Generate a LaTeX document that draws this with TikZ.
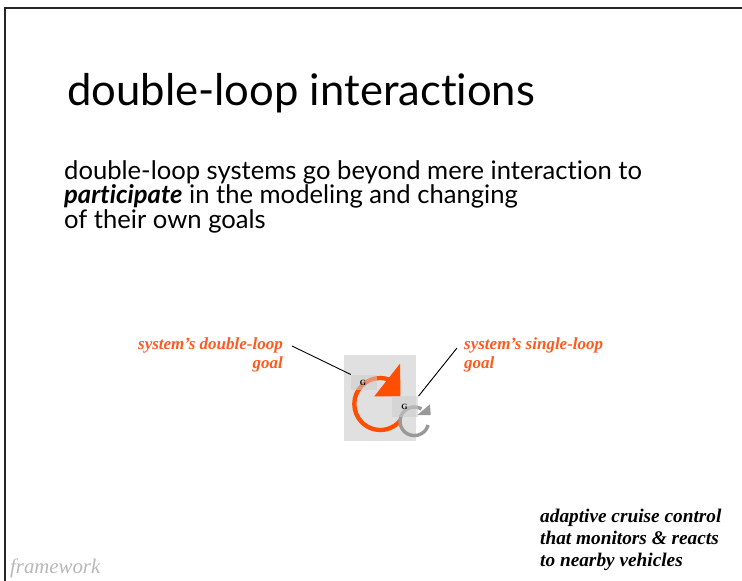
\documentclass[tikz,border=0pt]{standalone}
\usepackage{fontspec}
\usetikzlibrary{calc}
\setmainfont{Liberation Serif}
\newfontfamily\gill[Ligatures={NoCommon,NoDiscretionary}]{Lato}
\definecolor{orng}{HTML}{FF4E00}
\definecolor{lblorng}{HTML}{FF5A1E}
\definecolor{loopgray}{HTML}{999999}
\definecolor{iconbg}{HTML}{E0E0E0}
\begin{document}
\begin{tikzpicture}[x=1pt,y=-1pt,
  lbl/.style={inner sep=0pt, text=lblorng, font=\fontsize{17}{20}\selectfont\bfseries\itshape},
  bodyline/.style={inner sep=0pt, anchor=base west, font=\gill\fontsize{25.6}{30}\selectfont},
  note/.style={inner sep=0pt, anchor=base west, font=\fontsize{19.3}{22}\selectfont\bfseries\itshape},
  gbox/.style={fill=black!20, fill opacity=0.55, draw=none, inner sep=0pt},
  gtext/.style={inner sep=0pt, font=\fontsize{8}{9}\selectfont\bfseries},
  leader/.style={draw=black, line width=0.9pt}]
\useasboundingbox (0,0) rectangle (742,581);
\fill[white] (0,0) rectangle (742,581);
\draw[line width=1.3pt, black!85] (5,581) -- (5,8) -- (742,8);
% title
\node[inner sep=0pt, anchor=base west, font=\gill\fontsize{43.6}{50}\selectfont] (title) at (67,105) {double-loop interactions};
% body
\node[bodyline] (b1) at (64,179) {double-loop systems go beyond mere interaction to};
\node[bodyline] (b2) at (64,203.5) {\textbf{\textit{participate}} in the modeling and changing};
\node[bodyline] (b3) at (64,228) {of their own goals};
% icon
\fill[iconbg] (344,355) rectangle (416,441);
\coordinate (oc) at (380.3,404);
\draw[orng, line width=4.3pt] ($(oc)+(-45:26)$) arc[start angle=-45, end angle=-320, radius=26];
\fill[orng] (400,363.7) -- (374.3,396.3) -- (400.5,396.3) -- cycle;
\node[gbox, minimum width=26pt, minimum height=15pt] (g1box) at (364,382.2) {};
\node[gtext] (g1) at (363,382.5) {G};
\coordinate (gc) at (414.3,421.3);
\draw[loopgray, line width=3.4pt] ($(gc)+(-60:14.3)$) arc[start angle=-60, end angle=-345, radius=14.3];
\fill[loopgray] (430,404.3) -- (417.3,415) -- (430.7,415) -- cycle;
\node[gbox, minimum width=26pt, minimum height=20.7pt] (g2box) at (405.3,406.7) {};
\node[gtext] (g2) at (404.5,407) {G};
% labels
\node[lbl, anchor=base east] (dl1) at (283,349) {system’s double-loop};
\node[lbl, anchor=base east] (dl2) at (283,368) {goal};
\node[lbl, anchor=base west] (sl1) at (464,349) {system’s single-loop};
\node[lbl, anchor=base west] (sl2) at (464,368) {goal};
\coordinate (dlend) at (292,346);
\coordinate (slend) at (457,348);
\draw[leader] (dlend) -- (g1box.north west);
\draw[leader] (slend) -- (g2box.north east);
% note
\node[note] (n1) at (540,522) {adaptive cruise control};
\node[note] (n2) at (540,544) {that monitors \& reacts};
\node[note] (n3) at (540,566) {to nearby vehicles};
\node[inner sep=0pt, anchor=base west, text=black!28, font=\fontsize{20.8}{22}\selectfont\itshape] (fw) at (10,573) {framework};
\end{tikzpicture}
\end{document}
